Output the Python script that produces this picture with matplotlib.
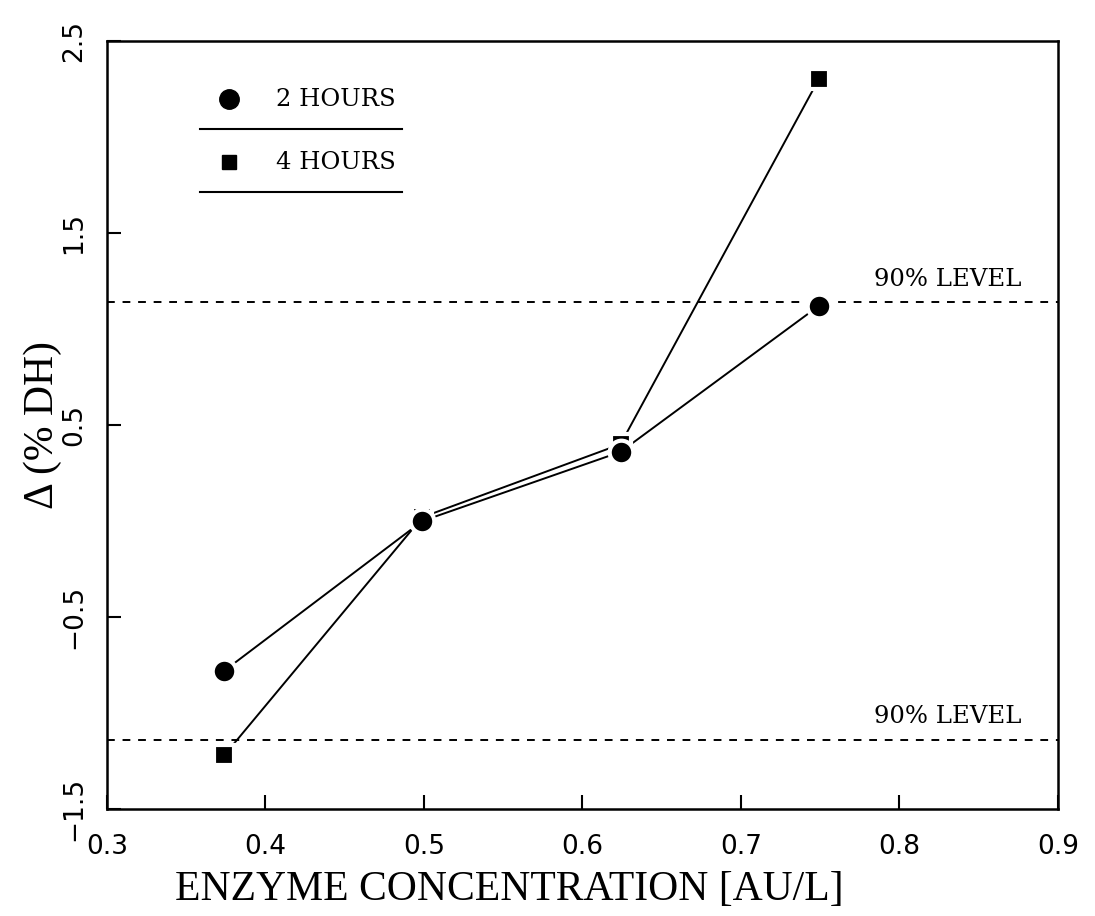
import matplotlib.pyplot as plt

# data
conc = [0.374, 0.499, 0.624, 0.749]
delta_2h = [-0.78, 0.00, 0.36, 1.12]
delta_4h = [-1.22, 0.02, 0.40, 2.30]
level_90 = 1.14

x_ticks = [0.3, 0.4, 0.5, 0.6, 0.7, 0.8, 0.9]
y_ticks = [-1.5, -0.5, 0.5, 1.5, 2.5]

fig = plt.figure(figsize=(10.95, 9.16), dpi=100)
ax = fig.add_axes([0.0977, 0.1168, 0.8685, 0.8384])

ax.axhline(level_90, color='black', lw=1.4, ls=(0, (4, 4)), zorder=1)
ax.axhline(-level_90, color='black', lw=1.4, ls=(0, (4, 4)), zorder=1)

ax.plot(conc, delta_4h, color='black', lw=1.4, zorder=2)
ax.plot(conc, delta_2h, color='black', lw=1.4, zorder=2)
ax.plot(conc, delta_4h, ls='none', marker='s', ms=14, mfc='black', mec='white', mew=3, zorder=3)
ax.plot(conc, delta_2h, ls='none', marker='o', ms=17, mfc='black', mec='white', mew=3, zorder=4)

ax.set_xlim(0.3, 0.9)
ax.set_ylim(-1.5, 2.5)
ax.set_xticks(x_ticks)
ax.set_yticks(y_ticks)
ax.set_xticklabels([f'{v:.1f}' for v in x_ticks], fontsize=19, family='DejaVu Sans')
ax.set_yticklabels([f'{v:.1f}'.replace('-', '\u2212') for v in y_ticks], fontsize=19,
                   family='DejaVu Sans', rotation=90, va='center')
ax.tick_params(direction='in', length=10, width=1.5)
ax.tick_params(axis='x', pad=18)
ax.tick_params(axis='y', pad=14)
for s in ax.spines.values():
    s.set_linewidth(1.8)

ax.set_xlabel('ENZYME CONCENTRATION [AU/L]', family='Liberation Serif', fontsize=30)
ax.xaxis.set_label_coords(0.423, -0.08)
ax.set_ylabel('\u0394 (% DH)', family='Liberation Serif', fontsize=30)
ax.yaxis.set_label_coords(-0.047, 0.5)

# annotations for 90% level
ytr = ax.get_yaxis_transform()
ax.text(0.962, level_90 + 0.06, '90% LEVEL', transform=ytr, family='DejaVu Serif',
        fontsize=17.5, ha='right', va='bottom')
ax.text(0.962, -level_90 + 0.06, '90% LEVEL', transform=ytr, family='DejaVu Serif',
        fontsize=17.5, ha='right', va='bottom')

# hand-drawn style legend
tr = ax.transAxes
ax.plot([0.128], [0.924], transform=tr, marker='o', ms=14, color='black', ls='none')
ax.text(0.178, 0.924, '2 HOURS', transform=tr, family='DejaVu Serif', fontsize=17.5, va='center')
ax.plot([0.098, 0.310], [0.885, 0.885], transform=tr, color='black', lw=1.5)
ax.plot([0.128], [0.842], transform=tr, marker='s', ms=10, color='black', ls='none')
ax.text(0.178, 0.842, '4 HOURS', transform=tr, family='DejaVu Serif', fontsize=17.5, va='center')
ax.plot([0.098, 0.310], [0.803, 0.803], transform=tr, color='black', lw=1.5)

fig.savefig('out.png', dpi=100)
